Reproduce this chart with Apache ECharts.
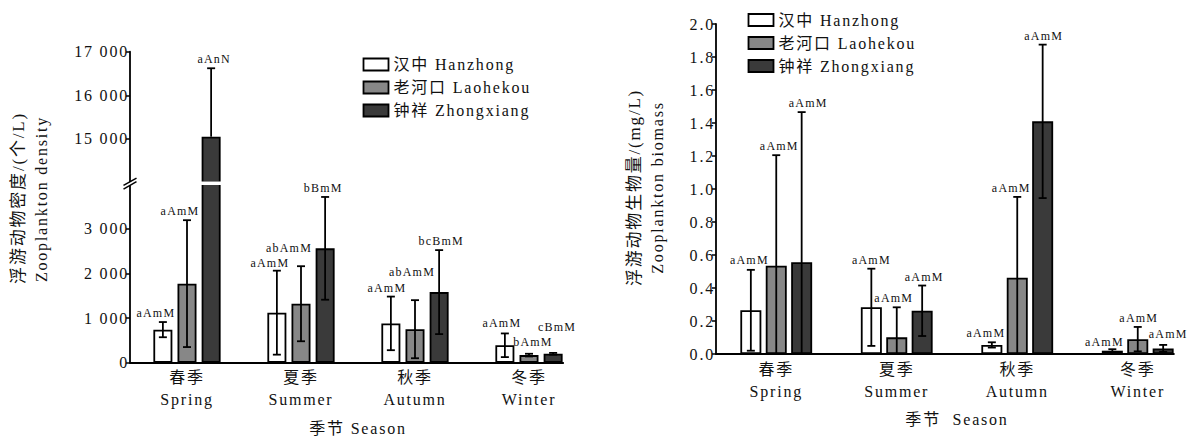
<!DOCTYPE html>
<html>
<head>
<meta charset="utf-8">
<script src="https://cdn.jsdelivr.net/npm/echarts@6/dist/echarts.min.js"></script>
<style>
html,body{margin:0;padding:0;background:#fff;}
#c{width:1192px;height:440px;}
#c svg text{letter-spacing:1.8px;}
#c svg text[style*="12px"]{letter-spacing:1.2px;}
</style>
</head>
<body>
<div id="c"></div>
<script>
// ---------- data ----------
const seasonsCn = ['春季', '夏季', '秋季', '冬季'];
const seasonsEn = ['Spring', 'Summer', 'Autumn', 'Winter'];
const sites = ['汉中 Hanzhong', '老河口 Laohekou', '钟祥 Zhongxiang'];

// Zooplankton density (ind./L)
const densHanzhong   = [740, 1120, 880, 390];
const densLaohekou   = [1770, 1320, 750, 170];
const densZhongxiang = [15050, 2560, 1580, 200];
const densErrHanzhong   = [170, 940, 600, 265];
const densErrLaohekou   = [1420, 840, 650, 30];
const densErrZhongxiang = [1570, 1150, 940, 20];
const densSigHanzhong   = ['aAmM', 'aAmM', 'aAmM', 'aAmM'];
const densSigLaohekou   = ['aAmM', 'abAmM', 'abAmM', 'bAmM'];
const densSigZhongxiang = ['aAnN', 'bBmM', 'bcBmM', 'cBmM'];
const densLowTicks  = [0, 1000, 2000, 3000];
const densHighTicks = [15000, 16000, 17000];

// Zooplankton biomass (mg/L)
const bioHanzhong   = [0.265, 0.283, 0.055, 0.020];
const bioLaohekou   = [0.535, 0.101, 0.462, 0.090];
const bioZhongxiang = [0.556, 0.262, 1.410, 0.034];
const bioErrHanzhong   = [0.245, 0.234, 0.016, 0.009];
const bioErrLaohekou   = [0.670, 0.182, 0.490, 0.074];
const bioErrZhongxiang = [0.910, 0.153, 0.465, 0.021];
const bioSigHanzhong   = ['aAmM', 'aAmM', 'aAmM', 'aAmM'];
const bioSigLaohekou   = ['aAmM', 'aAmM', 'aAmM', 'aAmM'];
const bioSigZhongxiang = ['aAmM', 'aAmM', 'aAmM', 'aAmM'];

// ---------- styling / layout ----------
const FONT = "'Liberation Serif', 'Noto Sans CJK SC', serif";
const TXT = '#111';
const colors = ['#ffffff', '#878787', '#3a3a3a'];
const L = { left: 130, width: 433.2, upTop: 51.7, upH: 130.8, lowTop: 184, lowH: 178.7 };
const R = { left: 716, width: 457.9, top: 24, h: 330 };
const X_MAX = 3.8;
const LBW = 19, LGAP = 0.27;   // left bars
const RBW = 21, RGAP = 0.21;   // right bars
// label nudges [dx, dy] (px) per site, per season
const densNudge = [
  [[-7, 0], [-7, 1], [-4, 0], [-3, -1]],
  [[-7, 0], [-12, -9], [-3, -19], [4, -3]],
  [[3, 0], [-2, 0], [2, 0], [4, -17]]
];
const bioNudge = [
  [[-1.5, -1], [0, 0], [-6, 0], [-8, 2]],
  [[3, 0], [-3, 0], [-6, 0], [1, 0]],
  [[6.5, 0], [2, 0], [1, 0], [5, -2]]
];

function thousands(v) {
  return String(v).replace(/\B(?=(\d{3})+(?!\d))/g, ' ');
}

function barSeries(k, vals, xi, yi, bw, gap) {
  return {
    type: 'bar', name: sites[k], xAxisIndex: xi, yAxisIndex: yi,
    barWidth: bw, barGap: (gap * 100) + '%', clip: true, silent: true,
    itemStyle: { color: colors[k], borderColor: '#000', borderWidth: 1.8 },
    data: vals.map((v, i) => [i + 0.5, v])
  };
}

function errSeries(k, vals, errs, sigs, nudges, xi, yi, bw, gap, yMin, yMax) {
  return {
    type: 'custom', name: 'err-' + xi + '-' + k, xAxisIndex: xi, yAxisIndex: yi, silent: true, z: 3,
    data: vals.map((v, i) => [i + 0.5, v, errs[i], i]),
    renderItem(params, api) {
      const x = api.value(0), v = api.value(1), e = api.value(2), i = api.value(3);
      const hi = v + e;
      if (v > yMax || hi < yMin) return null;
      let lo = Math.max(v - e, 0);
      const realLo = lo > 0 && lo >= yMin;
      if (lo < yMin) lo = Math.max(v, yMin);
      const off = (k - 1) * bw * (1 + gap);
      const pT = api.coord([x, hi]);
      const pB = api.coord([x, lo]);
      const cx = pT[0] + off;
      const st = { stroke: '#000', lineWidth: 1.8 };
      const ch = [
        { type: 'line', shape: { x1: cx, y1: pT[1], x2: cx, y2: pB[1] }, style: st },
        { type: 'line', shape: { x1: cx - 4, y1: pT[1], x2: cx + 4, y2: pT[1] }, style: st }
      ];
      if (realLo) ch.push({ type: 'line', shape: { x1: cx - 4, y1: pB[1], x2: cx + 4, y2: pB[1] }, style: st });
      const n = nudges[i];
      ch.push({
        type: 'text', x: cx + n[0], y: pT[1] - 3 + n[1],
        style: {
          text: sigs[i], fontSize: 12, fontFamily: FONT, fill: TXT, textFill: TXT,
          align: 'center', textAlign: 'center', verticalAlign: 'bottom', textVerticalAlign: 'bottom'
        }
      });
      return { type: 'group', children: ch };
    }
  };
}

function catLabel(v) {
  const i = Math.round(v - 0.5);
  return '{c|' + seasonsCn[i] + '}\n{e|' + seasonsEn[i] + '}';
}

const xCommon = {
  type: 'value', min: 0, max: X_MAX,
  axisLine: { show: true, lineStyle: { color: '#000', width: 1.8 } },
  axisTick: { show: false },
  splitLine: { show: false },
  axisLabel: {
    customValues: [0.5, 1.5, 2.5, 3.5], formatter: catLabel, margin: 4,
    rich: {
      c: { fontFamily: FONT, fontSize: 16, lineHeight: 22, color: TXT },
      e: { fontFamily: FONT, fontSize: 16, lineHeight: 22, color: TXT }
    }
  }
};

const yCommon = {
  type: 'value',
  axisLine: { show: true, lineStyle: { color: '#000', width: 1.8 } },
  axisTick: { show: true, length: 4, inside: false, lineStyle: { color: '#000', width: 1.5 } },
  splitLine: { show: false },
  axisLabel: { fontFamily: FONT, fontSize: 16, color: TXT, margin: 1 }
};

const grids = [
  { left: L.left, top: L.upTop, width: L.width, height: L.upH },
  { left: L.left, top: L.lowTop, width: L.width, height: L.lowH },
  { left: R.left, top: R.top, width: R.width, height: R.h }
];

const xAxes = [
  Object.assign({}, xCommon, { gridIndex: 0, show: false }),
  Object.assign({}, xCommon, { gridIndex: 1 }),
  Object.assign({}, xCommon, { gridIndex: 2 })
];

const yAxes = [
  Object.assign({}, yCommon, {
    gridIndex: 0, min: 14000, max: 17000,
    axisTick: Object.assign({}, yCommon.axisTick, { customValues: densHighTicks }),
    axisLabel: Object.assign({}, yCommon.axisLabel, { customValues: densHighTicks, formatter: thousands })
  }),
  Object.assign({}, yCommon, {
    gridIndex: 1, min: 0, max: 4000,
    axisTick: Object.assign({}, yCommon.axisTick, { customValues: densLowTicks }),
    axisLabel: Object.assign({}, yCommon.axisLabel, { customValues: densLowTicks, formatter: thousands })
  }),
  Object.assign({}, yCommon, {
    gridIndex: 2, min: 0, max: 2, interval: 0.2,
    axisLabel: Object.assign({}, yCommon.axisLabel, { formatter: v => v.toFixed(1) })
  })
];

const dens = [densHanzhong, densLaohekou, densZhongxiang];
const densErr = [densErrHanzhong, densErrLaohekou, densErrZhongxiang];
const densSig = [densSigHanzhong, densSigLaohekou, densSigZhongxiang];
const bio = [bioHanzhong, bioLaohekou, bioZhongxiang];
const bioErr = [bioErrHanzhong, bioErrLaohekou, bioErrZhongxiang];
const bioSig = [bioSigHanzhong, bioSigLaohekou, bioSigZhongxiang];

const series = [];
[0, 1, 2].forEach(k => {
  series.push(barSeries(k, dens[k], 0, 0, LBW, LGAP));
  series.push(barSeries(k, dens[k], 1, 1, LBW, LGAP));
  series.push(barSeries(k, bio[k], 2, 2, RBW, RGAP));
});
[0, 1, 2].forEach(k => {
  series.push(errSeries(k, dens[k], densErr[k], densSig[k], densNudge[k], 0, 0, LBW, LGAP, 14000, 17000));
  series.push(errSeries(k, dens[k], densErr[k], densSig[k], densNudge[k], 1, 1, LBW, LGAP, 0, 4000));
  series.push(errSeries(k, bio[k], bioErr[k], bioSig[k], bioNudge[k], 2, 2, RBW, RGAP, 0, 2));
});

function legendAt(left, top) {
  return {
    data: sites, orient: 'vertical', left: left, top: top, icon: 'rect', padding: 0,
    itemWidth: 25, itemHeight: 12, itemGap: 7, selectedMode: false,
    itemStyle: { borderColor: '#000', borderWidth: 1.8 },
    textStyle: { fontFamily: FONT, fontSize: 16, color: TXT }
  };
}

function txt(text, x, y, rot, size) {
  return {
    type: 'text', x: x, y: y, rotation: rot || 0, silent: true,
    style: {
      text: text, fontSize: size || 16, fontFamily: FONT, fill: TXT, textFill: TXT,
      align: 'center', textAlign: 'center', verticalAlign: 'middle', textVerticalAlign: 'middle'
    }
  };
}

// axis-break decoration on the left density axis (covers only the first season band)
const gapTop = L.upTop + L.upH - 0.9, gapBot = L.lowTop + 0.9;
const bx = L.left, by = (gapTop + gapBot) / 2;
const breakMark = [
  { type: 'rect', silent: true, z: 100,
    shape: { x: L.left + 1.5, y: gapTop, width: L.width / X_MAX - 1.5, height: gapBot - gapTop },
    style: { fill: '#fff' } },
  { type: 'polygon', silent: true, z: 100,
    shape: { points: [[bx - 6, by + 2.2], [bx + 6, by - 4.8], [bx + 6, by - 1.2], [bx - 6, by + 5.8]] },
    style: { fill: '#fff' } },
  { type: 'line', silent: true, z: 101, shape: { x1: bx - 6.5, y1: by + 2.2, x2: bx + 6.5, y2: by - 5.2 }, style: { stroke: '#000', lineWidth: 1.5 } },
  { type: 'line', silent: true, z: 101, shape: { x1: bx - 6.5, y1: by + 5.8, x2: bx + 6.5, y2: by - 1.6 }, style: { stroke: '#000', lineWidth: 1.5 } }
];

const graphics = [
  txt('浮游动物密度/(个/L)', 18, 198, Math.PI / 2, 17),
  txt('Zooplankton density', 41, 199, Math.PI / 2, 16),
  txt('浮游动物生物量/(mg/L)', 634, 187.5, Math.PI / 2, 17),
  txt('Zooplankton biomass', 657, 187.5, Math.PI / 2, 16),
  txt('季节 Season', L.left + 2 * L.width / X_MAX, 428),
  txt('季节  Season', R.left + 2 * R.width / X_MAX, 419)
].concat(breakMark);

const chart = echarts.init(document.getElementById('c'), null, { renderer: 'svg', width: 1192, height: 440 });
chart.setOption({
  animation: false,
  backgroundColor: '#ffffff',
  textStyle: { fontFamily: FONT },
  grid: grids,
  xAxis: xAxes,
  yAxis: yAxes,
  legend: [legendAt(362.6, 56.5), legendAt(747.6, 12)],
  series: series,
  graphic: graphics
});
</script>
</body>
</html>
